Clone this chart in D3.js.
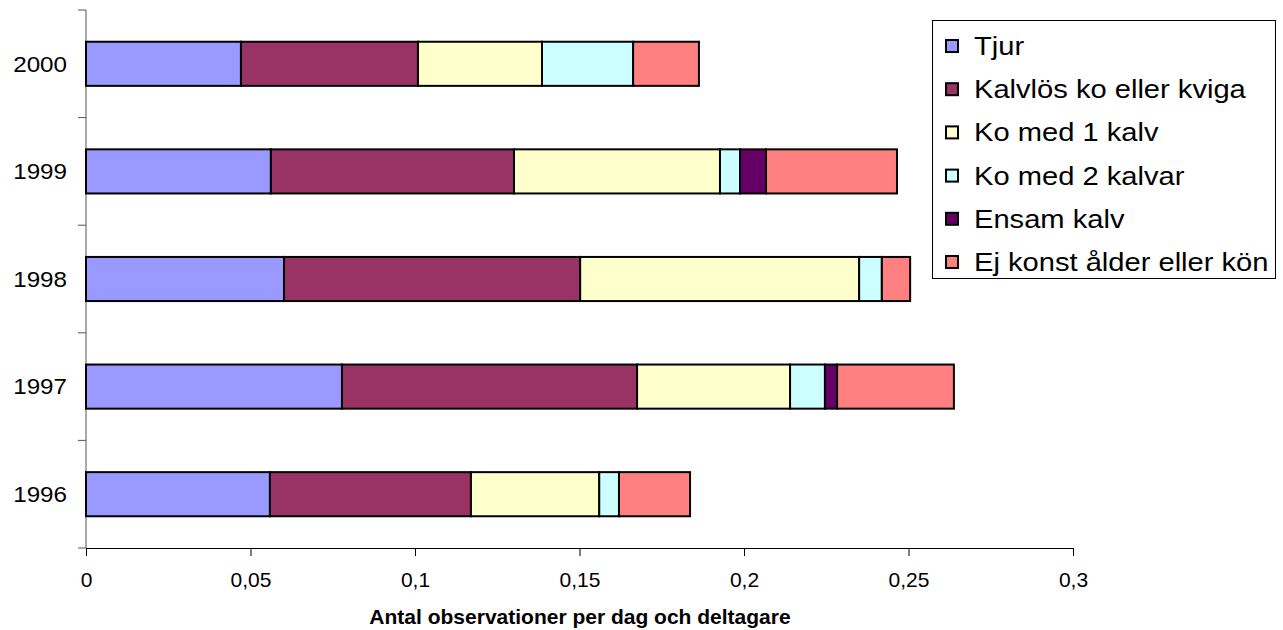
<!DOCTYPE html>
<html><head><meta charset="utf-8">
<script src="https://cdn.jsdelivr.net/npm/d3@7"></script>
<style>body{margin:0;background:#fff}svg{display:block;font-family:"Liberation Sans",Arial,sans-serif}</style>
</head><body><svg id="c" width="1283" height="630"></svg>
<script>
const years = ["2000","1999","1998","1997","1996"];
const seriesNames = ["Tjur","Kalvlös ko eller kviga","Ko med 1 kalv","Ko med 2 kalvar","Ensam kalv","Ej konst ålder eller kön"];
const seriesColors = ["#9999FF","#993366","#FFFFCC","#CCFFFF","#660066","#FF8080"];
const tjur     = [0.0471, 0.0562, 0.0602, 0.0778, 0.0559];
const kalvlos  = [0.0538, 0.0739, 0.0900, 0.0897, 0.0611];
const ko1      = [0.0377, 0.0626, 0.0848, 0.0465, 0.0390];
const ko2      = [0.0277, 0.0061, 0.0069, 0.0106, 0.0060];
const ensam    = [0.0000, 0.0079, 0.0000, 0.0037, 0.0000];
const ej       = [0.0200, 0.0398, 0.0086, 0.0355, 0.0216];
const xTicks = [0,0.05,0.1,0.15,0.2,0.25,0.3];
const xTitle = "Antal observationer per dag och deltagare";

const svg = d3.select("#c");
const pL=86, pR=1073, pT=10, pB=548;
const x = d3.scaleLinear().domain([0,0.3]).range([pL,pR]);
const y = d3.scaleBand().domain(years).range([pT,pB]).paddingInner(0.59).paddingOuter(0.295);
const yb = d3.scaleBand().domain(years).range([pT,pB]);

const rows = years.map((yr,i)=>({year:yr, vals:[tjur[i],kalvlos[i],ko1[i],ko2[i],ensam[i],ej[i]]}));
const keys = d3.range(seriesNames.length);
const stack = d3.stack().keys(keys).value((d,k)=>d.vals[k]);
const stacked = stack(rows);

const xAxis = d3.axisBottom(x).tickValues(xTicks).tickSize(8).tickFormat(d=>String(d).replace(".",","));
const gx = svg.append("g").attr("transform",`translate(0,${pB})`).call(xAxis);
gx.attr("font-size",21).attr("font-family","Liberation Sans, Arial");
gx.select(".domain").attr("stroke","#000").attr("stroke-width",1);
gx.selectAll(".tick line").attr("stroke","#000");
gx.selectAll(".tick text").attr("y",39).attr("dy",0).attr("fill","#000");

svg.append("line").attr("x1",pL).attr("x2",pL).attr("y1",pT).attr("y2",pB).attr("stroke","#555");
const yTickPos = years.map(d=>yb(d)).concat([pB]);
svg.selectAll(".yt").data(yTickPos).enter().append("line")
  .attr("x1",pL-8).attr("x2",pL).attr("y1",d=>d).attr("y2",d=>d).attr("stroke","#555");
svg.selectAll(".yl").data(years).enter().append("text")
  .attr("transform",d=>`translate(67,${y(d)+y.bandwidth()/2}) scale(1.1,1)`).attr("dy","0.35em")
  .attr("text-anchor","end").attr("font-size",22).text(d=>d);

stacked.forEach((s,k)=>{
  svg.append("g").selectAll("rect").data(s.filter(d=>d[1]-d[0]>0)).enter().append("rect")
    .attr("x",d=>x(d[0])).attr("width",d=>x(d[1])-x(d[0]))
    .attr("y",d=>y(d.data.year)).attr("height",y.bandwidth())
    .attr("fill",seriesColors[k]).attr("stroke","#000").attr("stroke-width",2);
});

svg.append("text").attr("x",580).attr("y",624).attr("text-anchor","middle")
  .attr("font-size",21).attr("font-weight","bold").text(xTitle);

const lg = svg.append("g");
lg.append("rect").attr("x",932.5).attr("y",20.5).attr("width",343).attr("height",258).attr("fill","#fff").attr("stroke","#000");
seriesNames.forEach((n,i)=>{
  const cy = 46 + i*43.2;
  lg.append("rect").attr("x",946).attr("y",cy-6).attr("width",12).attr("height",12)
    .attr("fill",seriesColors[i]).attr("stroke","#000").attr("stroke-width",2);
  lg.append("text").attr("transform",`translate(974,${cy}) scale(1.165,1)`).attr("dy","0.36em").attr("font-size",25).text(n);
});
</script></body></html>
